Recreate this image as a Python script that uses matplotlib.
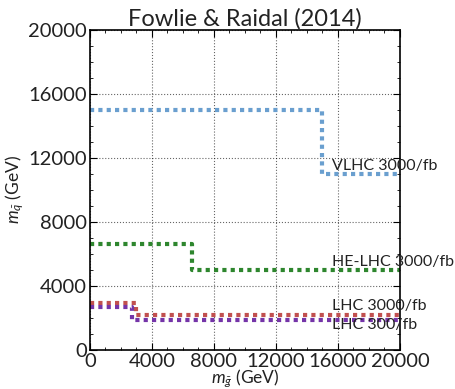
import matplotlib
matplotlib.use("Agg")
import matplotlib.pyplot as plt
import numpy as np

# data: step boundaries (gluino mass x, squark mass y)
vlhc_x = [0, 15000, 15000, 20000]
vlhc_y = [15000, 15000, 11000, 11000]
helhc_x = [0, 6600, 6600, 20000]
helhc_y = [6600, 6600, 5000, 5000]
lhc3000_x = [0, 3000, 3000, 20000]
lhc3000_y = [2950, 2950, 2200, 2200]
lhc300_x = [0, 2700, 2700, 20000]
lhc300_y = [2700, 2700, 1900, 1900]

labels = ["VLHC 3000/fb", "HE-LHC 3000/fb", "LHC 3000/fb", "LHC 300/fb"]
label_pos = [(15600, 11500), (15600, 5500), (15600, 2750), (15600, 1550)]
colors = ["#6a9fcf", "#2e862e", "#c1504f", "#7434a8"]

ticks = [0, 4000, 8000, 12000, 16000, 20000]

plt.rcParams['font.family'] = ['Lato', 'DejaVu Sans']
plt.rcParams['mathtext.fontset'] = 'custom'
plt.rcParams['mathtext.rm'] = 'Lato'
plt.rcParams['mathtext.it'] = 'Lato:italic'
fig = plt.figure(figsize=(4.56, 3.89), dpi=100)
ax = fig.add_axes([0.197, 0.1003, 0.68, 0.8227])

series = [(vlhc_x, vlhc_y), (helhc_x, helhc_y), (lhc3000_x, lhc3000_y), (lhc300_x, lhc300_y)]
for (x, y), c in zip(series, colors):
    ax.plot(x, y, color=c, lw=3, linestyle=(0, (1, 1)))

for lab, (px, py) in zip(labels, label_pos):
    ax.text(px, py, lab, fontsize=11.5, color="#222222", va="center", ha="left", clip_on=False)

ax.set_xlim(0, 20000)
ax.set_ylim(0, 20000)
ax.set_xticks(ticks)
ax.set_yticks(ticks)
ax.set_xticks(np.arange(0, 20001, 1000), minor=True)
ax.set_yticks(np.arange(0, 20001, 1000), minor=True)
ax.tick_params(which="both", direction="in", top=True, right=True, labelsize=14.5, pad=2,
               labelcolor="#222222")
ax.tick_params(which="major", length=5)
ax.tick_params(which="minor", length=2.5)
ax.grid(True, which="major", color="black", linestyle=":", lw=0.8, alpha=0.6)
for s in ax.spines.values():
    s.set_linewidth(1.2)
ax.set_xlabel(r"$m_{\tilde{g}}$ (GeV)", fontsize=12.5, labelpad=-1.5, color="#222222")
ax.set_ylabel(r"$m_{\tilde{q}}$ (GeV)", fontsize=12.5, labelpad=2, color="#222222")
ax.set_title("Fowlie & Raidal (2014)", fontsize=17, pad=1, color="#222222")

fig.savefig("out.png", dpi=100)
